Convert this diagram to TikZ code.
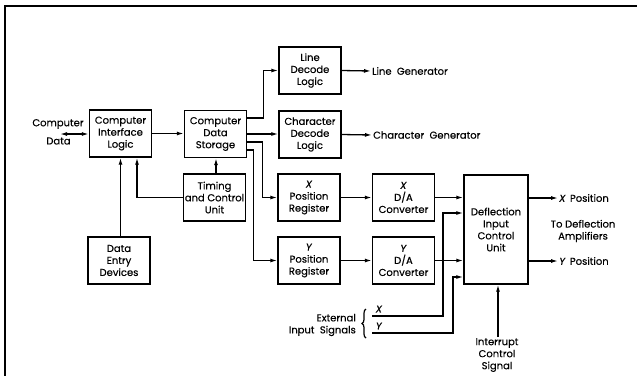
\documentclass[tikz,border=0pt]{standalone}
\usepackage{fontspec}
\setmainfont{Poppins}[FakeBold=0.3]
\usetikzlibrary{arrows.meta,decorations.pathreplacing}
\begin{document}
\begin{tikzpicture}[x=1pt,y=-1pt,
  every node/.style={font=\fontsize{10}{12}\selectfont},
  blk/.style={draw, line width=1.4pt, minimum width=62pt, minimum height=47pt, align=center, inner sep=1pt},
  lbl/.style={inner sep=1pt, align=center},
  arr/.style={line width=1.3pt, -{Latex[length=7pt,width=4pt]}},
  conn/.style={line width=1.3pt}]
\useasboundingbox (0,0) rectangle (637,376);
\draw[line width=1.8pt] (4,6) -- (637,6);
\draw[line width=2.4pt] (5,5.1) -- (5,376);
% boxes
\node[blk] (cil) at (120.5,133.5) {Computer\\Interface\\Logic};
\node[blk] (cds) at (215.5,134) {Computer\\Data\\Storage};
\node[blk] (ldl) at (310,70.5) {Line\\Decode\\Logic};
\node[blk] (cdl) at (310,134.5) {Character\\Decode\\Logic};
\node[blk] (xpr) at (309,197.5) {\textit{X}\\Position\\Register};
\node[blk] (xda) at (403.5,197.5) {\textit{X}\\D/A\\Converter};
\node[blk] (ypr) at (309,260.5) {\textit{Y}\\Position\\Register};
\node[blk] (yda) at (403.5,260.5) {\textit{Y}\\D/A\\Converter};
\node[blk, minimum width=64pt, minimum height=109pt] (dicu) at (496,229.5) {Deflection\\Input\\Control\\Unit};
\node[blk] (tcu) at (214.5,197.5) {Timing\\and Control\\Unit};
\node[blk] (ded) at (119,260.5) {Data\\Entry\\Devices};
% text labels
\node[lbl] (cdt1) at (58,124) {Computer};
\node[lbl] (cdt2) at (58.5,141) {Data};
\coordinate (cdarr) at (60,134);
\node[lbl, anchor=west] (lg) at (371,71) {Line \ Generator};
\node[lbl, anchor=west] (cg) at (372,135) {Character \ Generator};
\node[lbl, anchor=west] (xpos) at (558,198) {\textit{X} \,Position};
\node[lbl, anchor=west] (ypos) at (558,261) {\textit{Y} \,Position};
\node[lbl] (tda) at (583,231) {To Deflection\\Amplifiers};
\node[lbl, anchor=north] (int) at (497,337) {Interrupt\\Control\\Signal};
\node[lbl, align=right, anchor=east] (ext) at (357,325) {External\\Input \ Signals};
\node[lbl] (exlx) at (379,309) {\textit{X}};
\node[lbl] (exly) at (379,326) {\textit{Y}};
\coordinate (exX) at (372,316);
\coordinate (exY) at (372,333);
\draw[line width=1.2pt, decorate, decoration={brace, amplitude=4pt}] (366,338) -- (366,309);
% connectors
\draw[line width=1.3pt, {Latex[length=7pt,width=4pt]}-{Latex[length=7pt,width=4pt]}] (cdarr) -- (cdarr -| cil.west);
\draw[arr] (cil.east) -- (cil.east -| cds.west);
\draw[arr] ([xshift=1.5pt]ded.north) -- ([xshift=1.5pt]ded.north |- cil.south);
\draw[arr] (tcu.west) -| ([xshift=16.5pt]cil.south);
\draw[arr] ([xshift=1.5pt]tcu.north) -- ([xshift=1.5pt]tcu.north |- cds.south);
\draw[arr] ([yshift=16pt]cds.east) -- ++(16,0) |- (ldl.west);
\draw[arr] (cds.east) -- (cds.east -| cdl.west);
\draw[arr] ([yshift=-8pt]cds.east) -- ++(15,0) |- (xpr.west);
\draw[arr] ([yshift=-16pt]cds.east) -- ++(6,0) |- (ypr.west);
\draw[arr] (ldl.east) -- (lg.west);
\draw[arr] (cdl.east) -- (cg.west);
\draw[arr] (xpr.east) -- (xda.west);
\draw[arr] (ypr.east) -- (yda.west);
\draw[arr] (xda.east) -- (xda.east -| dicu.west);
\draw[arr] (yda.east) -- (yda.east -| dicu.west);
\draw[arr] (exX) -- ++(71,0) |- ([yshift=16.5pt]dicu.west);
\draw[arr] (exY) -- ++(81,0) |- ([yshift=-47.5pt]dicu.west);
\draw[arr] ([yshift=31.5pt]dicu.east) -- (xpos.west);
\draw[arr] ([yshift=-31.5pt]dicu.east) -- (ypos.west);
\draw[arr] ([xshift=1pt]int.north) -- ([xshift=1pt]int.north |- dicu.south);
\end{tikzpicture}
\end{document}
